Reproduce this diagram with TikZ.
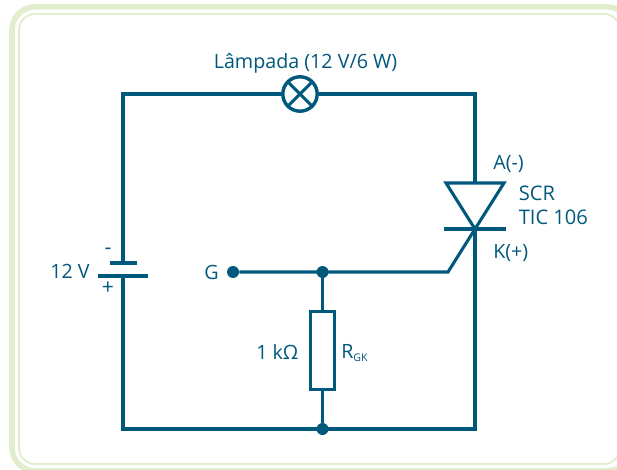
\documentclass[tikz,border=0pt]{standalone}
\usepackage{fontspec}
\setmainfont{Open Sans}
\usepackage{xcolor}
\usetikzlibrary{positioning}
\definecolor{wirecol}{HTML}{00587C}
\definecolor{framecol}{HTML}{E2EDCE}
\tikzset{
    wire/.style = {draw=wirecol, line width=0.77mm},
    label/.style = {text=wirecol, inner sep=0pt, font=\fontsize{14}{16.5}\selectfont, align=left},
    junction/.style = {circle, fill=wirecol, inner sep=0pt, minimum size=3mm},
    lamp/.style = {circle, draw=wirecol, line width=0.85mm, fill=white, minimum size=8.6mm, inner sep=0pt},
    resistor/.style = {rectangle, draw=wirecol, line width=0.77mm, fill=white, minimum width=6mm, minimum height=19.5mm, inner sep=0pt},
}
\begin{document}
\begin{tikzpicture}[x=0.25mm,y=-0.25mm]
\useasboundingbox (0,0) rectangle (617,470);
% frame
\draw[framecol, line width=1.4mm, rounded corners=5.8mm] (12,6.8) rectangle (630,471);
\draw[framecol, line width=0.45mm, rounded corners=4mm] (19,14) rectangle (620,464);
% wire corners
\coordinate (tl) at (123,94);
\coordinate (tr) at (475,94);
\coordinate (bl) at (123,429);
\coordinate (br) at (475,429);
\coordinate (batn) at (123,263);
\coordinate (batp) at (123,276);
\coordinate (batna) at (110,263);
\coordinate (batnb) at (137,263);
\coordinate (batpa) at (98,276);
\coordinate (batpb) at (148,276);
\coordinate (scra) at (475,183);
\coordinate (scrk) at (475,229);
\coordinate (triL) at (446,183);
\coordinate (triR) at (504,183);
\coordinate (barL) at (444,229);
\coordinate (barR) at (506,229);
\coordinate (gate) at (448,272);
% parts
\node[lamp] at (300,94) (lamp) {};
\node[resistor] at (322.5,350.5) (rgk) {};
\node[junction] at (233,272) (g) {};
\node[junction] at (322.5,272) (j1) {};
\node[junction] at (322.5,429) (j2) {};
%
\draw[wire] (batn) -- (tl) -- (lamp);
\draw[wire] (lamp) -- (tr) -- (scra);
\draw[wire] (scrk) -- (br) -- (bl) -- (batp);
\draw[wire] (batna) -- (batnb);
\draw[wire] (batpa) -- (batpb);
\draw[wire] (g) -- (gate) -- (scrk);
\draw[wire] (j1) -- (rgk);
\draw[wire] (rgk) -- (j2);
\draw[wire] (triL) -- (triR) -- (scrk) -- cycle;
\draw[wire] (barL) -- (barR);
\draw[wire] (lamp.north west) -- (lamp.south east);
\draw[wire] (lamp.north east) -- (lamp.south west);
% labels
\node[label] at (305.5,63) (lamptxt) {Lâmpada (12 V/6 W)};
\node[label, anchor=west] at (493,164) (atxt) {A(-)};
\node[label, anchor=west, font=\fontsize{14.3}{16.5}\selectfont] at (518.5,205.5) (scrtxt) {SCR\\[1pt]TIC 106};
\node[label, anchor=west] at (493,253) (ktxt) {K(+)};
\node[label, anchor=east] at (90,271) (vtxt) {12 V};
\node[label, font=\fontsize{15}{16}\selectfont] at (108,251) (minus) {-};
\node[label, font=\fontsize{15}{16}\selectfont] at (108,288) (plus) {+};
\node[label, anchor=east] at (219,272) (gtxt) {G};
\node[label, anchor=west] at (256,352) (ktxt2) {1 kΩ};
\node[label, anchor=west] at (341,353) (rtxt) {R\textsubscript{\fontsize{7.5}{8}\selectfont GK}};
\end{tikzpicture}
\end{document}
